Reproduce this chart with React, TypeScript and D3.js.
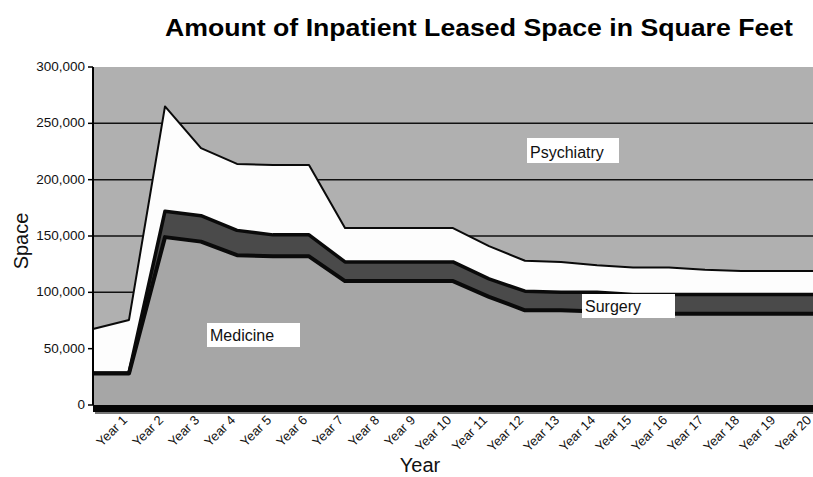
import React from "react";
import * as d3 from "d3";

const categories = ["", "Year 1", "Year 2", "Year 3", "Year 4", "Year 5", "Year 6", "Year 7", "Year 8", "Year 9", "Year 10",
  "Year 11", "Year 12", "Year 13", "Year 14", "Year 15", "Year 16", "Year 17", "Year 18", "Year 19", "Year 20"];

const medicine = [28000, 28000, 149000, 145000, 133000, 132000, 132000, 110000, 110000, 110000, 110000,
  96000, 84000, 84000, 83000, 82000, 81000, 81000, 81000, 81000, 81000];
const surgery = [500, 500, 23000, 23000, 22000, 19000, 19000, 17000, 17000, 17000, 17000,
  16000, 17000, 16000, 17000, 16000, 17000, 17000, 17000, 17000, 17000];
const psychiatry = [39000, 47000, 93000, 60000, 59000, 62000, 62000, 30000, 30000, 30000, 30000,
  29000, 27000, 27000, 24000, 24000, 24000, 22000, 21000, 21000, 21000];

const yTicks = [0, 50000, 100000, 150000, 200000, 250000, 300000];
const yTickLabels = ["0", "50,000", "100,000", "150,000", "200,000", "250,000", "300,000"];

const W = 813, H = 477;
const L = 93, R = 813, T = 67, B = 405;

export default function App() {
  const x = d3.scaleLinear().domain([0, categories.length - 1]).range([L, R]);
  const y = d3.scaleLinear().domain([0, 300000]).range([B, T]);

  const rows = categories.map((c, i) => ({ i, medicine: medicine[i], surgery: surgery[i], psychiatry: psychiatry[i] }));
  const stack = d3.stack<any>().keys(["medicine", "surgery", "psychiatry"]);
  const series = stack(rows);

  const area = d3.area<any>().x((d) => x(d.data.i)).y0((d) => y(d[0])).y1((d) => y(d[1]));
  const topLine = d3.line<any>().x((d) => x(d.data.i)).y((d) => y(d[1]));

  const fills = ["#a6a6a6", "#4a4a4a", "#fdfdfd"];
  const strokeW = [4, 3.5, 2];
  const font = "'Liberation Sans', Arial, sans-serif";

  return (
    <svg width={W} height={H} style={{ position: "absolute", left: 0, top: 0, background: "#fff" }} fontFamily={font}>
      <text x={479} y={36} fontSize={23} fontWeight="bold" textAnchor="middle" textLength={628} lengthAdjust="spacingAndGlyphs">
        Amount of Inpatient Leased Space in Square Feet
      </text>

      <rect x={L} y={T} width={R - L} height={B - T} fill="#b0b0b0" />
      {yTicks.slice(1, -1).map((t) => (
        <line key={t} x1={L} x2={R} y1={y(t)} y2={y(t)} stroke="#111" strokeWidth={1.5} />
      ))}

      {series.map((s, k) => (
        <path key={"a" + k} d={area(s) || ""} fill={fills[k]} />
      ))}
      {series.map((s, k) => (
        <path key={"l" + k} d={topLine(s) || ""} fill="none" stroke="#0a0a0a" strokeWidth={strokeW[k]} strokeLinejoin="round" />
      ))}

      <line x1={L} x2={L} y1={T} y2={B} stroke="#000" strokeWidth={2} />
      <rect x={L} y={B} width={R - L} height={7} fill="#050505" />
      <rect x={L + 2} y={B + 7} width={R - L} height={2} fill="#777" />

      {yTicks.map((t, i) => (
        <g key={t}>
          <line x1={L - 5} x2={L} y1={y(t)} y2={y(t)} stroke="#000" strokeWidth={1.5} />
          <text x={L - 8} y={y(t) + 4} fontSize={13.5} textAnchor="end" fill="#111">{yTickLabels[i]}</text>
        </g>
      ))}

      {categories.map((c, i) => c ? (
        <text key={c} transform={`translate(${x(i) - 1},${B + 16}) rotate(-45)`} fontSize={13} textAnchor="end" fill="#111">{c}</text>
      ) : null)}

      <rect x={207} y={323} width={93} height={24} fill="#fff" />
      <text x={210} y={341} fontSize={16} fill="#111">Medicine</text>
      <rect x={582} y={294} width={93} height={24} fill="#fff" />
      <text x={585} y={312} fontSize={16} fill="#111">Surgery</text>
      <rect x={527} y={138} width={92} height={25} fill="#fff" />
      <text x={530} y={158} fontSize={16} fill="#111">Psychiatry</text>

      <text transform="translate(28,241) rotate(-90)" fontSize={20} textAnchor="middle" fill="#111">Space</text>
      <text x={420} y={472} fontSize={20} textAnchor="middle" fill="#111">Year</text>
    </svg>
  );
}
